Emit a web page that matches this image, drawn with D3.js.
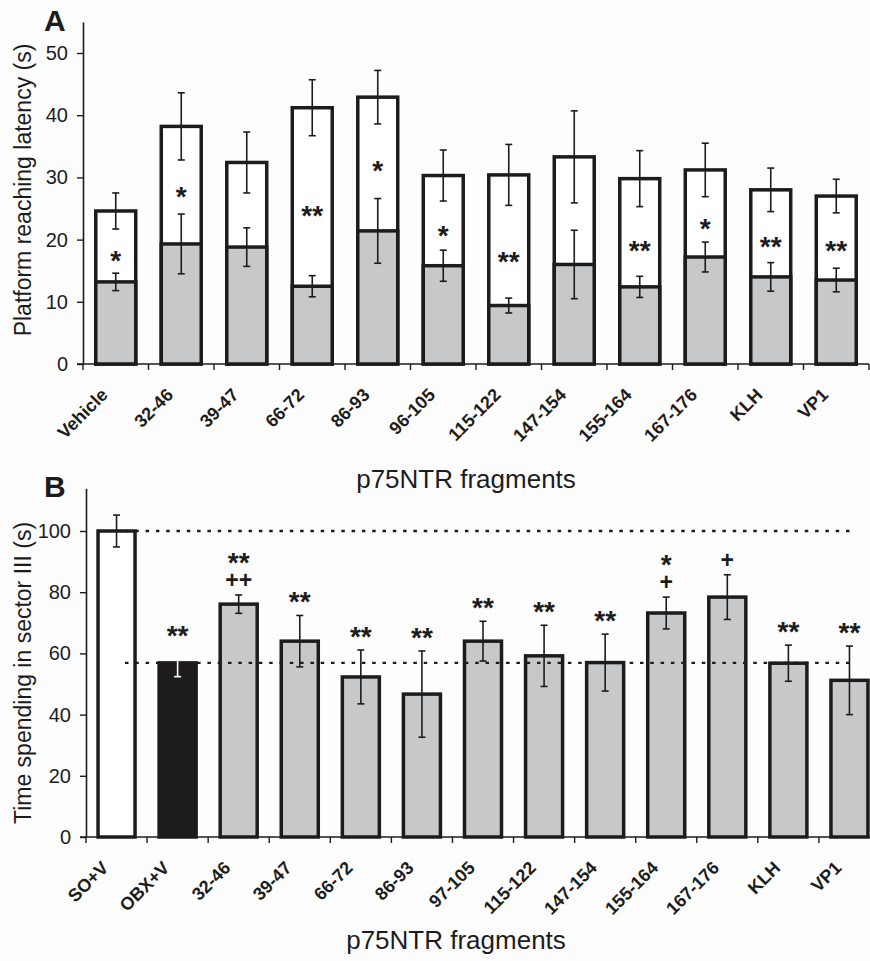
<!DOCTYPE html>
<html>
<head>
<meta charset="utf-8">
<script src="https://cdn.jsdelivr.net/npm/d3@7"></script>
<style>
  body { margin: 0; background: #fdfdfd; }
  svg { display: block; font-family: "Liberation Sans", Arial, sans-serif; }
</style>
</head>
<body>
<svg id="chart" width="870" height="961"></svg>
<script>
"use strict"

// ---- panel A data ----
const catsA = ["Vehicle", "32-46", "39-47", "66-72", "86-93", "96-105", "115-122", "147-154", "155-164", "167-176", "KLH", "VP1"]
const totalA = [24.6, 38.2, 32.4, 41.2, 42.9, 30.3, 30.4, 33.3, 29.8, 31.2, 28.0, 27.0]
const totalErrA = [2.9, 5.4, 4.9, 4.5, 4.3, 4.1, 4.9, 7.4, 4.5, 4.3, 3.5, 2.7]
const grayA = [13.2, 19.3, 18.8, 12.5, 21.4, 15.8, 9.4, 16.0, 12.4, 17.2, 14.0, 13.5]
const grayErrA = [1.4, 4.8, 3.1, 1.7, 5.2, 2.5, 1.2, 5.5, 1.7, 2.4, 2.3, 1.9]
const sigA = ["*", "*", "", "**", "*", "*", "**", "", "**", "*", "**", "**"]
const ticksA = [0, 10, 20, 30, 40, 50]

// ---- panel B data ----
const catsB = ["SO+V", "OBX+V", "32-46", "39-47", "66-72", "86-93", "97-105", "115-122", "147-154", "155-164", "167-176", "KLH", "VP1"]
const valB = [100, 56.9, 76.1, 64.0, 52.3, 46.7, 64.0, 59.2, 57.0, 73.2, 78.4, 56.8, 51.2]
const errB = [5.2, 4.5, 3.0, 8.4, 8.8, 14.1, 6.5, 10.0, 9.3, 5.2, 7.3, 5.9, 11.2]
const starB = ["", "**", "**", "**", "**", "**", "**", "**", "**", "*", "", "**", "**"]
const plusB = ["", "", "++", "", "", "", "", "", "", "+", "+", "", ""]
const fillB = ["white", "black", "gray", "gray", "gray", "gray", "gray", "gray", "gray", "gray", "gray", "gray", "gray"]
const refLinesB = [100, 56.9]
const ticksB = [0, 20, 40, 60, 80, 100]

const ink = "#1c1c1c"
const grayFill = "#c7c8ca"
const svg = d3.select("#chart")

function panel(opts) {
  const g = svg.append("g")
  const x = d3.scaleBand().domain(opts.cats).range(opts.xRange)
    .paddingInner(opts.pad).paddingOuter(opts.pad / 2)
  const y = d3.scaleLinear().domain(opts.yDomain).range(opts.yRange)
  const step = x.step()
  const y0 = y(0)

  // y axis
  const yAxis = g.append("g")
    .attr("transform", `translate(${opts.xRange[0]},0)`)
    .call(d3.axisLeft(y).tickValues(opts.ticks).tickSize(6).tickPadding(9).tickSizeOuter(0))
  yAxis.select(".domain").attr("stroke", ink).attr("stroke-width", 1.6)
  yAxis.selectAll(".tick line").attr("stroke", ink).attr("stroke-width", 1.4)
  yAxis.selectAll(".tick text").attr("fill", ink).style("font-size", "20px")
    .style("font-family", "'Liberation Sans', Arial, sans-serif")

  // x axis line + boundary ticks
  g.append("line")
    .attr("x1", opts.xRange[0] - 6).attr("x2", opts.xRange[1])
    .attr("y1", y0).attr("y2", y0)
    .attr("stroke", ink).attr("stroke-width", 1.6)
  const bounds = opts.cats.map(c => x(c) - step * opts.pad / 2)
  bounds.push(opts.xRange[1])
  g.append("g").selectAll("line").data(bounds).enter().append("line")
    .attr("x1", d => d).attr("x2", d => d)
    .attr("y1", y0).attr("y2", y0 + 6)
    .attr("stroke", ink).attr("stroke-width", 1.4)

  // category labels
  g.append("g").selectAll("text").data(opts.cats).enter().append("text")
    .attr("transform", d => `translate(${x(d) + x.bandwidth() / 2 - 7},${y0 + 32}) rotate(-45)`)
    .attr("text-anchor", "end")
    .attr("fill", ink)
    .style("font-size", "18px").style("font-weight", "bold")
    .text(d => d)

  // titles
  g.append("text")
    .attr("transform", `translate(31,${opts.yTitleY}) rotate(-90)`)
    .attr("text-anchor", "middle").attr("fill", ink)
    .style("font-size", "23px")
    .text(opts.yTitle)
  g.append("text")
    .attr("x", opts.xTitleX).attr("y", opts.xTitleY)
    .attr("text-anchor", "middle").attr("fill", ink)
    .style("font-size", "26px")
    .text("p75NTR fragments")
  g.append("text")
    .attr("x", 44).attr("y", opts.letterY)
    .attr("fill", ink)
    .style("font-size", "30px").style("font-weight", "bold")
    .text(opts.letter)

  return { g, x, y }
}

function errorBar(g, cx, yTop, yBot, color) {
  const e = g.append("g").attr("stroke", color || ink).attr("stroke-width", 1.6)
  e.append("line").attr("x1", cx).attr("x2", cx).attr("y1", yTop).attr("y2", yBot)
  e.append("line").attr("x1", cx - 3.5).attr("x2", cx + 3.5).attr("y1", yTop).attr("y2", yTop)
  e.append("line").attr("x1", cx - 3.5).attr("x2", cx + 3.5).attr("y1", yBot).attr("y2", yBot)
}

// ---------- Panel A ----------
const A = panel({
  cats: catsA, xRange: [83, 869], pad: 0.39,
  yDomain: [0, 55], yRange: [364, 364 - 55 * 6.22], ticks: ticksA,
  yTitle: "Platform reaching latency (s)", yTitleY: 190,
  xTitleX: 466, xTitleY: 488, letter: "A", letterY: 31
})

catsA.forEach((c, i) => {
  const bx = A.x(c), bw = A.x.bandwidth(), cx = bx + bw / 2
  A.g.append("rect")
    .attr("x", bx).attr("y", A.y(totalA[i]))
    .attr("width", bw).attr("height", A.y(0) - A.y(totalA[i]))
    .attr("fill", "white").attr("stroke", ink).attr("stroke-width", 3.5)
  A.g.append("rect")
    .attr("x", bx).attr("y", A.y(grayA[i]))
    .attr("width", bw).attr("height", A.y(0) - A.y(grayA[i]))
    .attr("fill", grayFill).attr("stroke", ink).attr("stroke-width", 3.5)
  errorBar(A.g, cx, A.y(totalA[i] + totalErrA[i]), A.y(totalA[i] - totalErrA[i]))
  errorBar(A.g, cx, A.y(grayA[i] + grayErrA[i]), A.y(grayA[i] - grayErrA[i]))
  if (sigA[i]) {
    const mid = (A.y(grayA[i] + grayErrA[i]) + A.y(totalA[i] - totalErrA[i])) / 2 + 3
    A.g.append("text")
      .attr("x", cx).attr("y", mid + 16)
      .attr("text-anchor", "middle").attr("fill", ink)
      .style("font-size", "28px").style("font-weight", "bold")
      .text(sigA[i])
  }
})

// ---------- Panel B ----------
const B = panel({
  cats: catsB, xRange: [86, 880], pad: 0.394,
  yDomain: [0, 114], yRange: [837, 837 - 114 * 3.06], ticks: ticksB,
  yTitle: "Time spending in sector III (s)", yTitleY: 673,
  xTitleX: 456, xTitleY: 949, letter: "B", letterY: 497
})

const fillColor = { white: "white", black: "#1e1b1c", gray: grayFill }
catsB.forEach((c, i) => {
  const bx = B.x(c), bw = B.x.bandwidth()
  B.g.append("rect")
    .attr("x", bx).attr("y", B.y(valB[i]))
    .attr("width", bw).attr("height", B.y(0) - B.y(valB[i]))
    .attr("fill", fillColor[fillB[i]]).attr("stroke", ink).attr("stroke-width", 3.5)
})

// dotted reference lines (SO+V and OBX+V levels)
B.g.append("g").selectAll("line").data(refLinesB).enter().append("line")
  .attr("x1", 125).attr("x2", 852)
  .attr("y1", d => B.y(d)).attr("y2", d => B.y(d))
  .attr("stroke", ink).attr("stroke-width", 2.4)
  .attr("stroke-dasharray", "3.5,6.8")

catsB.forEach((c, i) => {
  const cx = B.x(c) + B.x.bandwidth() / 2
  const top = B.y(valB[i] + errB[i])
  errorBar(B.g, cx, top, B.y(valB[i] - errB[i]), fillB[i] === "black" ? "white" : ink)
  if (!starB[i] && !plusB[i]) return
  // one text per bar: star line above, plus line below
  const t = B.g.append("text")
    .attr("text-anchor", "middle").attr("fill", ink)
    .style("font-weight", "bold")
  if (starB[i]) {
    const base = plusB[i] ? top - 19 - 20 + 16 : top - 20 + 16
    t.append("tspan").attr("x", cx).attr("y", base)
      .style("font-size", "28px").text(starB[i])
  }
  if (plusB[i]) {
    t.append("tspan").attr("x", cx).attr("y", top - 15 + 8)
      .style("font-size", "23px").text(plusB[i])
  }
})
</script>
</body>
</html>
